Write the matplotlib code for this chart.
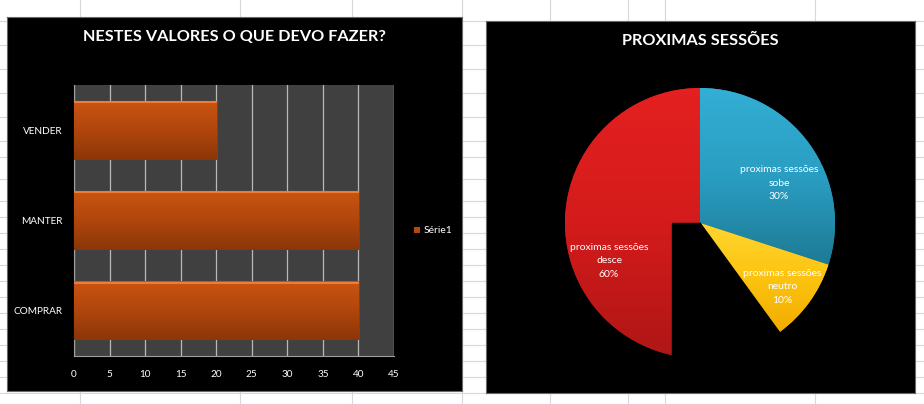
import numpy as np
import matplotlib
matplotlib.use("Agg")
import matplotlib.pyplot as plt
from matplotlib.colors import LinearSegmentedColormap
from matplotlib.lines import Line2D
from matplotlib.patches import Wedge, Rectangle

# ── Données ───────────────────────────────────────────────────────────────────
acoes         = ["COMPRAR", "MANTER", "VENDER"]
valores_acoes = [40, 40, 20]
serie         = "Série1"
ticks_x       = [0, 5, 10, 15, 20, 25, 30, 35, 40, 45]

sessoes     = ["sobe", "neutro", "desce"]
pct_sessoes = [30, 10, 60]

titulo_barras = "NESTES VALORES O QUE DEVO FAZER?"
titulo_pizza  = "PROXIMAS SESSÕES"

# ── Mise en page (pixels) ─────────────────────────────────────────────────────
W, H = 924, 404
plt.rcParams["font.family"] = ["Lato", "DejaVu Sans"]


def box(x0, y0, x1, y1):
    return [x0 / W, 1 - y1 / H, (x1 - x0) / W, (y1 - y0) / H]


fig = plt.figure(figsize=(W / 100, H / 100), dpi=100, facecolor="white")

# quadrillage de la feuille de calcul
for x in [80, 240, 352, 462, 550, 628, 665, 815]:
    fig.add_artist(Line2D([x / W, x / W], [0, 1], color="#d5d8dc", lw=0.8, zorder=-5))
for y in [21, 45, 69, 93, 117, 141, 157, 179, 201] + list(range(217, 404, 16)):
    fig.add_artist(Line2D([0, 1], [1 - y / H, 1 - y / H], color="#d5d8dc", lw=0.8, zorder=-5))

# ─────────────────────────────────────────────────────────────────────────────
# 1. Barres
# ─────────────────────────────────────────────────────────────────────────────
bg1 = fig.add_axes(box(7, 17, 462, 391), zorder=0)
bg1.set_facecolor("black")
bg1.set_xticks([]); bg1.set_yticks([])
for s in bg1.spines.values():
    s.set_color("#6a6a6a")

ax = fig.add_axes(box(74, 85, 394, 356), zorder=1)
ax.set_facecolor("#404040")

ypos = np.arange(len(acoes))
bars = ax.barh(ypos, valores_acoes, height=0.65, color="#b4480e", label=serie, zorder=3)

cmap_bar = LinearSegmentedColormap.from_list("bar", ["#8c3608", "#b0460d", "#c95411"])
grad = np.linspace(0, 1, 64).reshape(-1, 1)
for b in bars:
    x0, y0 = b.get_xy()
    w, h = b.get_width(), b.get_height()
    im = ax.imshow(grad, extent=[x0, x0 + w, y0, y0 + h], origin="lower",
                   aspect="auto", cmap=cmap_bar, zorder=3.5)
    im.set_clip_path(b)
    ax.add_line(Line2D([x0, x0 + w], [y0 + h - 0.015, y0 + h - 0.015],
                       color="#f07c34", lw=1.5, zorder=4))

ax.set_xlim(0, 45)
ax.set_ylim(-0.5, len(acoes) - 0.5)
ax.set_xticks(ticks_x)
ax.set_yticks(ypos)
ax.set_yticklabels(acoes)
ax.tick_params(length=0, labelcolor="white", labelsize=7.2)
ax.tick_params(axis="x", pad=10)
ax.tick_params(axis="y", pad=8)
ax.xaxis.grid(True, color="#b8b8b8", lw=0.9)
ax.set_axisbelow(True)
for side in ["top", "right"]:
    ax.spines[side].set_visible(False)
for side in ["left", "bottom"]:
    ax.spines[side].set_color("#a0a0a0")

leg = ax.legend(loc="center left", bbox_to_anchor=(414 / W, 1 - 231 / H),
                bbox_transform=fig.transFigure, frameon=False, labelcolor="white",
                fontsize=7.5, handlelength=0.6, handleheight=0.6,
                handletextpad=0.35, borderpad=0, borderaxespad=0)

fig.text(234 / W, 1 - 37 / H, titulo_barras, ha="center", va="center",
         color="white", weight="bold", size=11.7)

# ─────────────────────────────────────────────────────────────────────────────
# 2. Camembert
# ─────────────────────────────────────────────────────────────────────────────
bg2 = fig.add_axes(box(486, 21, 915, 393), zorder=0)
bg2.set_facecolor("black")
bg2.set_xticks([]); bg2.set_yticks([])
for s in bg2.spines.values():
    s.set_color("#6a6a6a")

R, cx, cy, half = 135, 700, 223, 150
axp = fig.add_axes(box(cx - half, cy - half, cx + half, cy + half), zorder=1)

total = sum(pct_sessoes)
rotulos = [f"proximas sessões\n{n}\n{100 * v / total:.0f}%" for n, v in zip(sessoes, pct_sessoes)]
cores = ["#2695b8", "#fcc410", "#d21a1a"]
degrades = [["#1d7b95", "#2a9dc2", "#33aed4"],
            ["#f2ac00", "#fcc410", "#ffd630"],
            ["#b01616", "#d41b1b", "#e42020"]]

wedges, texts = axp.pie(pct_sessoes, labels=rotulos, colors=cores, startangle=90,
                        counterclock=False, labeldistance=0.7,
                        textprops=dict(color="white", size=7.5, linespacing=1.6))

for wdg, cols in zip(wedges, degrades):
    bb = wdg.get_path().get_extents()
    cm = LinearSegmentedColormap.from_list("w", cols)
    im = axp.imshow(grad, extent=[bb.x0, bb.x1, bb.y0, bb.y1], origin="lower",
                    aspect="auto", cmap=cm, zorder=1.5)
    im.set_clip_path(wdg)

# rendu tronqué de la part "desce" dans l'original
axp.add_patch(Wedge((0, 0), 1.03, -90, wedges[1].theta1, color="black", zorder=2))
axp.add_patch(Rectangle((-28 / R, -1.03), 28 / R, 1.03, color="black", zorder=2))

pos_rotulos = [(0.585, 0.296), (0.607, -0.474), (-0.674, -0.281)]
for t, p in zip(texts, pos_rotulos):
    t.set_position(p)
    t.set_ha("center")
    t.set_va("center")
    t.set_zorder(5)

axp.set_xlim(-half / R, half / R)
axp.set_ylim(-half / R, half / R)
axp.set_aspect("equal")
axp.axis("off")

fig.text(700 / W, 1 - 41 / H, titulo_pizza, ha="center", va="center",
         color="white", weight="bold", size=11.7)

fig.savefig("out.png", dpi=100, facecolor="white")
